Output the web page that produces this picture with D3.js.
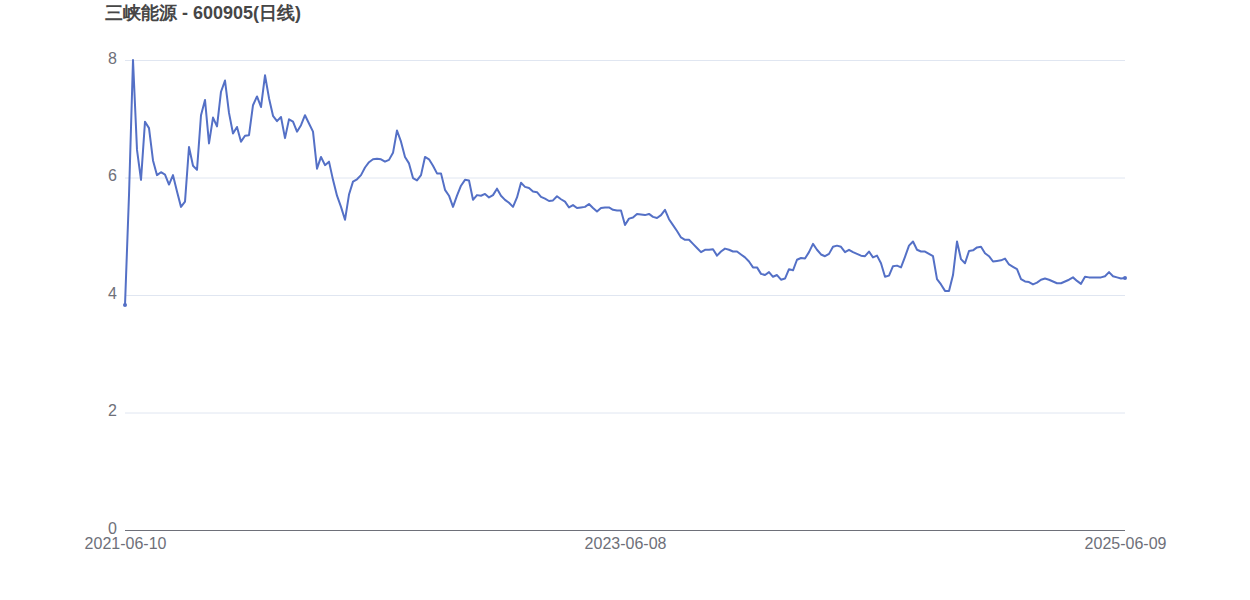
<!DOCTYPE html>
<html><head><meta charset="utf-8">
<script src="https://cdn.jsdelivr.net/npm/d3@7"></script>
<style>body{margin:0;background:#fff;}svg{display:block;font-family:"Liberation Sans",Arial,sans-serif;}</style>
</head><body>
<svg id="c" width="1250" height="600"></svg>
<script>
const title = "三峡能源 - 600905(日线)";
const xTickLabels = ["2021-06-10", "2023-06-08", "2025-06-09"];
const yTicks = [0, 2, 4, 6, 8];
const prices = [
3.83,5.70,8.00,6.47,5.96,6.95,6.84,6.29,6.04,6.09,6.05,5.88,6.04,5.76,5.50,5.59,6.52,6.20,6.13,7.06,
7.32,6.58,7.02,6.87,7.46,7.65,7.10,6.75,6.86,6.61,6.71,6.72,7.23,7.38,7.20,7.74,7.35,7.05,6.96,7.03,
6.67,6.99,6.95,6.78,6.89,7.06,6.92,6.78,6.15,6.35,6.21,6.27,5.96,5.69,5.50,5.28,5.71,5.93,5.97,6.04,
6.17,6.26,6.31,6.32,6.31,6.27,6.30,6.42,6.80,6.61,6.35,6.24,5.99,5.95,6.04,6.35,6.31,6.20,6.07,6.07,
5.79,5.69,5.50,5.69,5.86,5.96,5.95,5.62,5.70,5.69,5.72,5.66,5.70,5.81,5.69,5.62,5.57,5.50,5.66,5.91,
5.84,5.82,5.76,5.75,5.67,5.64,5.60,5.61,5.68,5.63,5.59,5.49,5.53,5.48,5.49,5.50,5.55,5.48,5.42,5.48,
5.49,5.49,5.45,5.44,5.44,5.19,5.30,5.32,5.38,5.37,5.36,5.38,5.33,5.31,5.36,5.45,5.29,5.19,5.09,4.98,
4.94,4.94,4.87,4.80,4.73,4.77,4.77,4.78,4.67,4.74,4.79,4.77,4.74,4.74,4.69,4.64,4.57,4.47,4.47,4.36,
4.34,4.39,4.31,4.34,4.26,4.28,4.44,4.42,4.60,4.63,4.62,4.73,4.87,4.77,4.69,4.66,4.70,4.82,4.84,4.82,
4.73,4.77,4.73,4.70,4.67,4.66,4.74,4.64,4.67,4.54,4.31,4.33,4.49,4.50,4.47,4.65,4.84,4.91,4.77,4.74,
4.74,4.70,4.66,4.27,4.18,4.07,4.07,4.34,4.91,4.61,4.54,4.75,4.76,4.81,4.82,4.71,4.66,4.57,4.58,4.59,
4.62,4.52,4.48,4.44,4.27,4.23,4.22,4.18,4.21,4.26,4.28,4.26,4.23,4.20,4.20,4.23,4.26,4.30,4.24,4.19,
4.31,4.30,4.30,4.30,4.30,4.32,4.39,4.32,4.30,4.28,4.29
];

(function () {
const svg = d3.select("#c");
const pLeft = 125, pRight = 1125, pTop = 60, pBottom = 530;
const n = prices.length;
const x = d3.scaleLinear().domain([0, n - 1]).range([pLeft, pRight]);
const y = d3.scaleLinear().domain([0, 8]).range([pBottom, pTop]);
const tickIdx = [0, Math.round((n - 1) / 2), n - 1];

// grid lines
svg.append("g").selectAll("line").data(yTicks.filter(d => d > 0)).join("line")
  .attr("x1", pLeft).attr("x2", pRight)
  .attr("y1", d => y(d) + 0.5).attr("y2", d => y(d) + 0.5)
  .attr("stroke", "#E0E6F1").attr("stroke-width", 1);

// y axis labels
const yAxis = d3.axisLeft(y).tickValues(yTicks).tickSize(0).tickPadding(8);
const gy = svg.append("g").attr("transform", `translate(${pLeft},-2)`).call(yAxis);
gy.select(".domain").remove();
gy.selectAll("text").attr("fill", "#6E7079").attr("font-size", 16)
  .attr("font-family", '"Liberation Sans",Arial,sans-serif');

// x axis
const xAxis = d3.axisBottom(x).tickValues(tickIdx).tickFormat((d, i) => xTickLabels[i]).tickSize(0).tickPadding(8);
const gx = svg.append("g").attr("transform", `translate(0,${pBottom})`).call(xAxis);
gx.select(".domain").attr("stroke", "#6E7079").attr("d", `M${pLeft},0.5H${pRight}`);
gx.selectAll("text").attr("fill", "#6E7079").attr("font-size", 16)
  .attr("font-family", '"Liberation Sans",Arial,sans-serif');

// line
const line = d3.line().x((d, i) => x(i)).y(d => y(d)).curve(d3.curveLinear);
svg.append("path").datum(prices).attr("d", line)
  .attr("fill", "none").attr("stroke", "#5470C6").attr("stroke-width", 2)
  .attr("stroke-linejoin", "round");

// end symbols
svg.append("g").selectAll("circle").data([0, n - 1]).join("circle")
  .attr("cx", i => x(i)).attr("cy", i => y(prices[i])).attr("r", 2)
  .attr("fill", "#5470C6");

// title
svg.append("text").attr("x", 105).attr("y", 19).text(title)
  .attr("font-size", 18).attr("font-weight", "bold").attr("fill", "#464646");
})();
</script>
</body></html>
